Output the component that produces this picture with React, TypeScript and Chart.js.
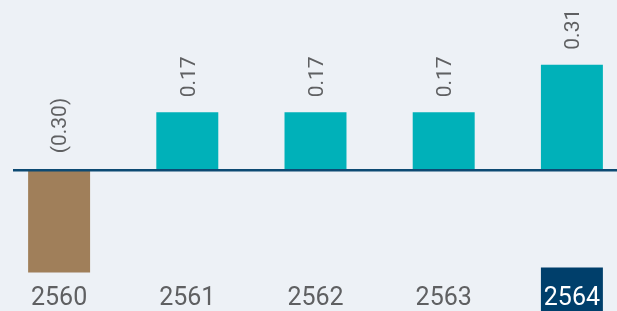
import React, { useEffect, useRef } from 'react';
import { Chart, registerables } from 'chart.js';

Chart.register(...registerables);

const categories = ['2560', '2561', '2562', '2563', '2564'];
const values = [-0.3, 0.17, 0.17, 0.17, 0.31];
const valueLabels = ['(0.30)', '0.17', '0.17', '0.17', '0.31'];
const highlightIndex = 4;

const BG = '#edf1f6';
const TEAL = '#00b1b9';
const BROWN = '#a07f5a';
const NAVY = '#003f6b';
const LINE = '#0d4a73';
const TEXT = '#5f6062';
const FONT = "'Roboto', 'Liberation Sans', sans-serif";
const CANVAS_LEFT = -5;
const CANVAS_WIDTH = 641;

const highlightPlugin = {
  id: 'highlightBox',
  beforeDraw(chart: any) {
    const meta = chart.getDatasetMeta(0);
    const bar = meta.data[highlightIndex];
    if (!bar) return;
    const ctx = chart.ctx;
    const w = bar.width;
    const top = chart.chartArea.bottom - 18.5;
    ctx.save();
    ctx.fillStyle = NAVY;
    ctx.fillRect(bar.x - w / 2, top, w, chart.height - top);
    ctx.restore();
  },
};

const zeroLinePlugin = {
  id: 'zeroLine',
  afterDatasetsDraw(chart: any) {
    const y = chart.scales.y.getPixelForValue(0);
    const ctx = chart.ctx;
    ctx.save();
    ctx.strokeStyle = LINE;
    ctx.lineWidth = 2.7;
    ctx.beginPath();
    ctx.moveTo(13 - CANVAS_LEFT, y);
    ctx.lineTo(chart.width, y);
    ctx.stroke();
    ctx.restore();
  },
};

const valueLabelPlugin = {
  id: 'valueLabels',
  afterDatasetsDraw(chart: any) {
    const meta = chart.getDatasetMeta(0);
    const zeroY = chart.scales.y.getPixelForValue(0);
    const ctx = chart.ctx;
    ctx.save();
    ctx.fillStyle = TEXT;
    ctx.font = `21px ${FONT}`;
    ctx.textAlign = 'left';
    ctx.textBaseline = 'middle';
    meta.data.forEach((bar: any, i: number) => {
      const v = values[i];
      const anchorY = v >= 0 ? bar.y - 15 : zeroY - 17;
      ctx.save();
      ctx.translate(bar.x + 2, anchorY);
      ctx.rotate(-Math.PI / 2);
      ctx.fillText(valueLabels[i], 0, 0);
      ctx.restore();
    });
    ctx.restore();
  },
};

export default function App() {
  const canvasRef = useRef<HTMLCanvasElement>(null);

  useEffect(() => {
    document.body.style.background = BG;
    const canvas = canvasRef.current;
    if (!canvas) return;
    const chart = new Chart(canvas, {
      type: 'bar',
      data: {
        labels: categories,
        datasets: [
          {
            data: values,
            backgroundColor: values.map((v) => (v < 0 ? BROWN : TEAL)),
            borderWidth: 0,
            barPercentage: 0.4834,
            categoryPercentage: 1,
          },
        ],
      },
      options: {
        animation: false,
        responsive: true,
        maintainAspectRatio: false,
        devicePixelRatio: 1,
        layout: { padding: 0 },
        plugins: {
          legend: { display: false },
          tooltip: { enabled: false },
        },
        scales: {
          x: {
            offset: true,
            grid: { display: false, drawTicks: false },
            border: { display: false },
            ticks: {
              padding: 0,
              color: (ctx: any) => (ctx.index === highlightIndex ? '#ffffff' : TEXT),
              font: { family: FONT, size: 25, lineHeight: 1 },
              maxRotation: 0,
              autoSkip: false,
            },
          },
          y: {
            display: false,
            min: -0.34,
            max: 0.5,
          },
        },
      },
      plugins: [highlightPlugin, zeroLinePlugin, valueLabelPlugin],
    });
    return () => chart.destroy();
  }, []);

  return (
    <div
      style={{
        position: 'fixed',
        left: 0,
        top: 0,
        width: 617,
        height: 311,
        overflow: 'hidden',
        background: BG,
      }}
    >
      <div
        style={{
          position: 'absolute',
          left: CANVAS_LEFT,
          top: 0,
          width: CANVAS_WIDTH,
          height: 311,
        }}
      >
        <canvas ref={canvasRef} />
      </div>
    </div>
  );
}
